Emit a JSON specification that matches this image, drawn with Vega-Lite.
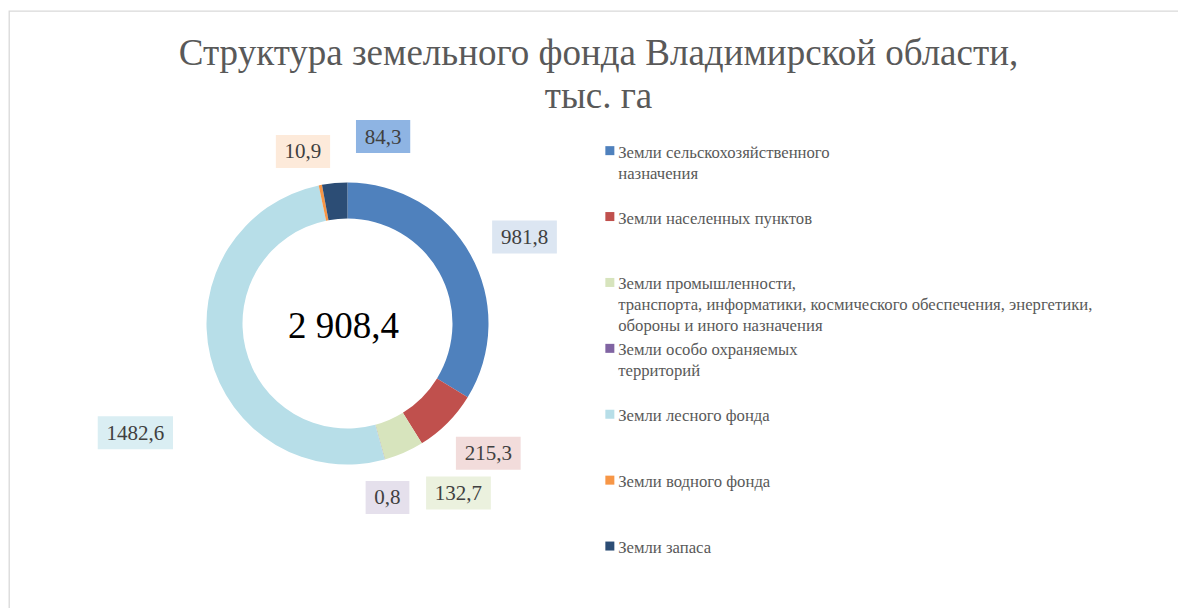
{
  "$schema": "https://vega.github.io/schema/vega-lite/v6.json",
  "width": 1171,
  "height": 599,
  "autosize": {"type": "none"},
  "padding": {"left": 9, "top": 11, "right": -2, "bottom": -2},
  "background": "white",
  "config": {
    "view": {"stroke": "#D9D9D9", "strokeWidth": 1.3},
    "locale": {"number": {"decimal": ",", "thousands": " ", "grouping": [3], "currency": ["", ""]}},
    "style": {"guide-label": {"lineHeight": 21}}
  },
  "title": {
    "text": ["Структура земельного фонда Владимирской области,", "тыс. га"],
    "font": "Liberation Serif",
    "fontSize": 37,
    "fontWeight": "normal",
    "color": "#595959",
    "anchor": "middle",
    "frame": "group",
    "offset": -105,
    "lineHeight": 43,
    "dx": 4
  },
  "data": {
    "values": [
      {"cat": "Земли сельскохозяйственного\nназначения", "value": 981.8},
      {"cat": "Земли населенных пунктов", "value": 215.3},
      {"cat": "Земли промышленности,\nтранспорта, информатики, космического обеспечения, энергетики,\nобороны и иного назначения", "value": 132.7},
      {"cat": "Земли особо охраняемых\nтерриторий", "value": 0.8},
      {"cat": "Земли лесного фонда", "value": 1482.6},
      {"cat": "Земли водного фонда", "value": 10.9},
      {"cat": "Земли запаса", "value": 84.3}
    ]
  },
  "transform": [
    {"joinaggregate": [{"op": "sum", "field": "value", "as": "total"}]},
    {"window": [{"op": "row_number", "as": "idx"}]},
    {"stack": "value", "groupby": [], "sort": [{"field": "idx", "order": "ascending"}], "as": ["v0", "v1"]},
    {"calculate": "((datum.v0 + datum.v1) / 2 / datum.total * 360 + [3.2, -2.2, -9.6, 2.4, -13.7, -3.4, 16][datum.idx - 1]) * PI / 180", "as": "la"},
    {"calculate": "[197, 191.4, 202.6, 178.5, 238.6, 177.7, 190.3][datum.idx - 1]", "as": "lr"},
    {"calculate": "datum.lr * sin(datum.la)", "as": "lx"},
    {"calculate": "datum.lr * cos(datum.la)", "as": "ly"},
    {"calculate": "format(datum.value, '.1f')", "as": "lab"},
    {"calculate": "10.5 * length(datum.lab) + 12.25", "as": "bw"},
    {"calculate": "datum.lx - datum.bw / 2", "as": "bx1"},
    {"calculate": "datum.lx + datum.bw / 2", "as": "bx2"},
    {"calculate": "datum.ly - 16.5", "as": "by1"},
    {"calculate": "datum.ly + 16.5", "as": "by2"}
  ],
  "layer": [
    {
      "mark": {"type": "arc", "innerRadius": 105, "outerRadius": 141},
      "encoding": {
        "x": {"datum": 0, "type": "quantitative", "scale": {"domain": [-338.5, 832.5], "nice": false, "zero": false}, "axis": null},
        "y": {"datum": 0, "type": "quantitative", "scale": {"domain": [-286.5, 312.5], "nice": false, "zero": false}, "axis": null},
        "theta": {"field": "v1", "type": "quantitative"},
        "theta2": {"field": "v0"},
        "color": {
          "field": "cat",
          "type": "nominal",
          "sort": null,
          "scale": {"range": ["#4F81BD", "#C0504D", "#D7E4BD", "#8064A2", "#B7DEE8", "#F79646", "#2C4D75"]},
          "legend": {
            "orient": "none",
            "direction": "vertical",
            "legendX": 592.5,
            "legendY": 138.3,
            "title": null,
            "padding": 0,
            "symbolType": "M-1,-2.556H1V-0.556H-1Z",
            "symbolSize": 81,
            "symbolStrokeWidth": 0,
            "labelFont": "Liberation Serif",
            "labelFontSize": 16.7,
            "labelColor": "#595959",
            "labelLimit": 1000,
            "labelOffset": 0,
            "labelBaseline": "alphabetic",
            "rowPadding": 5.9,
            "labelExpr": "[split(datum.label, '\\n')[0], split(datum.label, '\\n')[1] || '', split(datum.label, '\\n')[2] || '']"
          }
        }
      }
    },
    {
      "mark": {"type": "rect"},
      "encoding": {
        "x": {"field": "bx1", "type": "quantitative"},
        "x2": {"field": "bx2"},
        "y": {"field": "by1", "type": "quantitative"},
        "y2": {"field": "by2"},
        "fill": {
          "field": "cat",
          "type": "nominal",
          "sort": null,
          "scale": {"range": ["#DCE6F2", "#F2DCDB", "#EBF1DE", "#E5E0EC", "#DAEEF3", "#FDEADA", "#8EB4E3"]},
          "legend": null
        }
      }
    },
    {
      "mark": {"type": "text", "font": "Liberation Serif", "fontSize": 21, "color": "#404040", "align": "center", "baseline": "middle", "dy": 1},
      "encoding": {
        "x": {"field": "lx", "type": "quantitative"},
        "y": {"field": "ly", "type": "quantitative"},
        "text": {"field": "lab", "type": "nominal"}
      }
    },
    {
      "transform": [{"aggregate": [{"op": "sum", "field": "value", "as": "sum"}]}],
      "mark": {"type": "text", "font": "Liberation Serif", "fontSize": 37, "color": "#000000", "align": "center", "baseline": "middle", "dx": -4, "dy": 3},
      "encoding": {
        "x": {"datum": 0, "type": "quantitative"},
        "y": {"datum": 0, "type": "quantitative"},
        "text": {"field": "sum", "type": "quantitative", "format": ",.1f"}
      }
    }
  ]
}
